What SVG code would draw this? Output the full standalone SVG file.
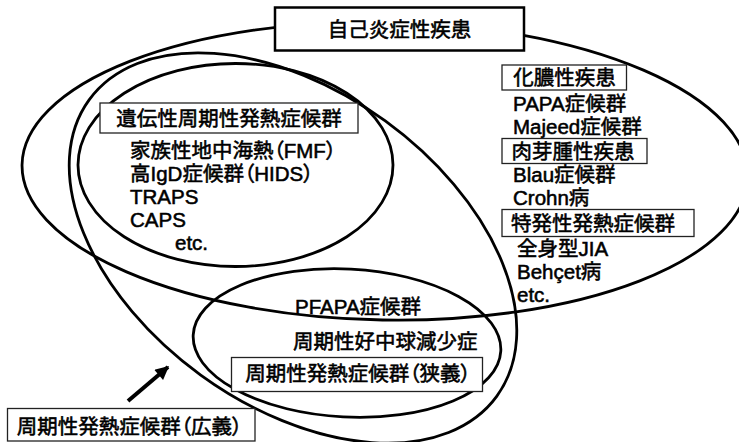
<svg xmlns="http://www.w3.org/2000/svg" width="739" height="442" viewBox="0 0 739 442">
<defs>
<style>
.e{fill:none;stroke:#000;stroke-width:2.8}
.t{font-family:"Liberation Sans","Noto Sans CJK JP",sans-serif;font-size:20.5px;font-weight:normal;fill:#000;stroke:#000;stroke-width:0.55}
.p{font-feature-settings:"palt"}
.m{text-anchor:middle}
.b{fill:#fff;stroke:#222;stroke-width:1.3}
.bb{fill:#fff;stroke:#000;stroke-width:2.5}
</style>
<marker id="ah" viewBox="0 0 10 10" refX="9" refY="5" markerWidth="4" markerHeight="3.4" orient="auto" markerUnits="strokeWidth">
<path d="M0,0 L10,5 L0,10 Z" fill="#000"/>
</marker>
</defs>
<rect width="739" height="442" fill="#fff"/>
<g id="connectors">
<ellipse id="e-auto" class="e" cx="385" cy="171" rx="363" ry="149" transform="rotate(1 385 171)"/>
<ellipse id="e-broad" class="e" cx="293" cy="248" rx="252" ry="157" transform="rotate(36 293 248)"/>
<ellipse id="e-hered" class="e" cx="235.5" cy="165" rx="157.5" ry="101.5"/>
<ellipse id="e-narrow" class="e" cx="347" cy="343" rx="154" ry="74" transform="rotate(3 347 343)"/>
<line id="arrow" x1="128" y1="401" x2="168" y2="367" stroke="#000" stroke-width="4" marker-end="url(#ah)"/>
</g>
<g id="n-auto">
<rect class="bb" x="275" y="7.5" width="249" height="43"/>
<text class="t m" x="399.5" y="36.5">自己炎症性疾患</text>
</g>
<g id="n-hered">
<rect class="b" x="100" y="103" width="258" height="30"/>
<text class="t m" x="229" y="126">遺伝性周期性発熱症候群</text>
<text class="t p" x="130" y="158">家族性地中海熱（FMF）</text>
<text class="t p" x="130" y="181">高IgD症候群（HIDS）</text>
<text class="t" x="130" y="204">TRAPS</text>
<text class="t" x="130" y="227">CAPS</text>
<text class="t" x="175" y="250">etc.</text>
</g>
<g id="n-pyogenic">
<rect class="b" x="502" y="65" width="124.5" height="25"/>
<text class="t m" x="564.5" y="85">化膿性疾患</text>
<text class="t" x="513" y="111">PAPA症候群</text>
<text class="t" x="513" y="134">Majeed症候群</text>
</g>
<g id="n-granulo">
<rect class="b" x="502" y="138.5" width="145" height="25"/>
<text class="t m" x="573" y="159">肉芽腫性疾患</text>
<text class="t" x="513" y="182">Blau症候群</text>
<text class="t" x="513" y="205">Crohn病</text>
</g>
<g id="n-idio">
<rect class="b" x="502" y="209.5" width="192" height="27"/>
<text class="t m" x="593" y="231">特発性発熱症候群</text>
<text class="t" x="517" y="256">全身型JIA</text>
<text class="t" x="517" y="279">Behçet病</text>
<text class="t" x="517" y="302">etc.</text>
</g>
<g id="n-narrow">
<text class="t" x="295" y="313.5">PFAPA症候群</text>
<text class="t" x="293" y="348.5">周期性好中球減少症</text>
<rect class="b" x="231.5" y="357.5" width="251" height="34"/>
<text class="t m p" x="358" y="381">周期性発熱症候群（狭義）</text>
</g>
<g id="n-broad">
<rect class="b" x="7.5" y="408.5" width="247.5" height="32.5"/>
<text class="t m p" x="129.5" y="434">周期性発熱症候群（広義）</text>
</g>
</svg>
